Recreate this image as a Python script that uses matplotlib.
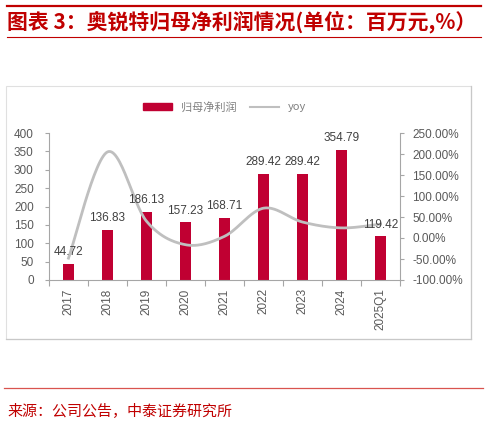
import numpy as np
import matplotlib.pyplot as plt
from matplotlib.patches import Rectangle
from matplotlib.lines import Line2D

plt.rcParams['font.family'] = ['Liberation Sans', 'Noto Sans CJK SC', 'DejaVu Sans']

# datos
categorias = ['2017', '2018', '2019', '2020', '2021', '2022', '2023', '2024', '2025Q1']
beneficio = [44.72, 136.83, 186.13, 157.23, 168.71, 289.42, 289.42, 354.79, 119.42]
yoy = [-48, 205, 40, -16, 4, 71, 38, 24, 33]

rojo = '#C00032'
gris = '#BFBFBF'
titulo_color = '#C00000'

fig = plt.figure(figsize=(4.88, 4.24), dpi=100)

# marco del gráfico
fig.add_artist(Rectangle((6 / 488, 1 - 339 / 424), 465 / 488, 253 / 424,
                         transform=fig.transFigure, fill=False,
                         edgecolor='#E0E0E0', lw=0.8))
fig.add_artist(Line2D([471 / 488] * 2, [1 - 86 / 424, 1 - 339 / 424], color='#C8C8C8', lw=0.9))
fig.add_artist(Line2D([6 / 488, 471 / 488], [1 - 339 / 424] * 2, color='#C8C8C8', lw=0.9))

# líneas rojas del título y de la fuente
fig.add_artist(Line2D([7 / 488, 481 / 488], [1 - 6 / 424] * 2, color=titulo_color, lw=1.6))
fig.add_artist(Line2D([7 / 488, 481 / 488], [1 - 37 / 424] * 2, color=titulo_color, lw=0.8))
fig.add_artist(Line2D([4 / 488, 483 / 488], [1 - 388 / 424] * 2, color='#D9534F', lw=0.9))

fig.text(7 / 488, 1 - 22 / 424, '图表 3：奥锐特归母净利润情况(单位：百万元,%）',
         color=titulo_color, fontsize=15, fontweight='bold', va='center', ha='left',
         family=['Noto Sans CJK SC', 'DejaVu Sans'])
fig.text(7 / 488, 1 - 411 / 424, '来源：公司公告，中泰证券研究所',
         color=titulo_color, fontsize=10.8, va='center', ha='left',
         family=['Noto Sans CJK SC', 'DejaVu Sans'])

ax = fig.add_axes([49 / 488, 1 - 280 / 424, 351 / 488, 147 / 424])
x = np.arange(len(categorias))
ax.bar(x, beneficio, width=0.3, color=rojo, zorder=2)
ax.set_xlim(-0.5, len(categorias) - 0.5)
ax.set_ylim(0, 400)
ax.set_yticks(np.arange(0, 401, 50))
ax.set_xticks(np.arange(-0.5, len(categorias), 1), minor=False)
ax.set_xticklabels([])
ax.set_xticks(x, minor=True)
ax.set_xticklabels(categorias, minor=True, rotation=90)
ax.tick_params(axis='x', which='major', length=4, color='#A6A6A6')
ax.tick_params(axis='x', which='minor', length=0, labelsize=8.5, labelcolor='#595959', pad=6)
ax.tick_params(axis='y', length=3, color='#A6A6A6', labelsize=8.5, labelcolor='#595959', pad=8)
for lado in ['top', 'right']:
    ax.spines[lado].set_visible(False)
for lado in ['left', 'bottom']:
    ax.spines[lado].set_color('#A6A6A6')

ax2 = ax.twinx()
ax2.set_ylim(-100, 250)
ax2.set_yticks(np.arange(-100, 251, 50))
ax2.set_yticklabels([f'{v:.2f}%' for v in np.arange(-100, 251, 50)])
ax2.tick_params(axis='y', length=3, color='#A6A6A6', labelsize=8.5, labelcolor='#595959', pad=6)
for lado in ['top', 'left', 'bottom']:
    ax2.spines[lado].set_visible(False)
ax2.spines['right'].set_color('#A6A6A6')

# línea suavizada (Bezier tipo Excel) en coordenadas de pantalla
fig.canvas.draw()
pts = ax2.transData.transform(np.column_stack([x, yoy]))
curva = []
n = len(pts)
for i in range(n - 1):
    p0 = pts[max(i - 1, 0)]
    p1 = pts[i]
    p2 = pts[i + 1]
    p3 = pts[min(i + 2, n - 1)]
    c1 = p1 + (p2 - p0) / 6
    c2 = p2 - (p3 - p1) / 6
    t = np.linspace(0, 1, 30)[:, None]
    seg = (1 - t) ** 3 * p1 + 3 * (1 - t) ** 2 * t * c1 + 3 * (1 - t) * t ** 2 * c2 + t ** 3 * p2
    curva.append(seg)
curva = ax2.transData.inverted().transform(np.vstack(curva))
ax2.plot(curva[:, 0], curva[:, 1], color=gris, lw=2, zorder=3)

for xi, v in zip(x, beneficio):
    ax2.annotate(f'{v:.2f}', xy=(xi, (v / 400) * 350 - 100), xytext=(0, 4),
                 textcoords='offset points', ha='center', va='bottom',
                 fontsize=8.5, color='#404040', zorder=4)

# leyenda
ax.legend(handles=[Rectangle((0, 0), 1, 1, color=rojo),
                   Line2D([], [], color=gris, lw=1.5)],
          labels=['归母净利润', 'yoy'], loc='center', bbox_to_anchor=(0.5, 1 + 26 / 147),
          ncol=2, frameon=False, fontsize=8, labelcolor='#808080',
          handlelength=2.6, handleheight=0.5, columnspacing=1.2,
          prop={'family': ['Noto Sans CJK SC', 'DejaVu Sans'], 'size': 8})

fig.savefig('out.png', dpi=100)
